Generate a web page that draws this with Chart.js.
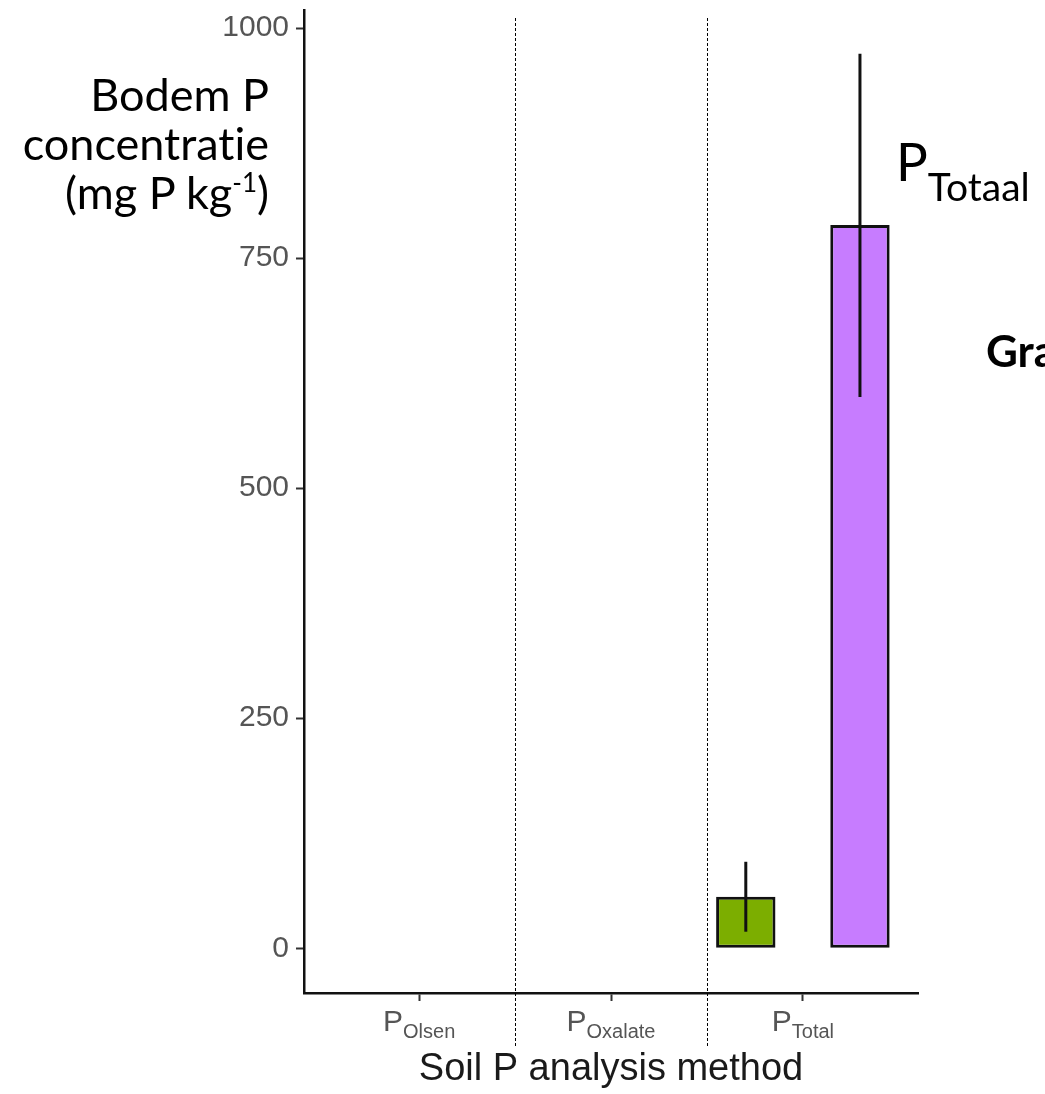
<!DOCTYPE html>
<html>
<head>
<meta charset="utf-8">
<script src="https://cdn.jsdelivr.net/npm/chart.js@4/dist/chart.umd.min.js"></script>
<style>
    html, body { margin: 0; padding: 0; background: #fff; overflow: hidden; }
    #wrap { position: relative; width: 1045px; height: 1094px; }
    #chart { position: absolute; left: 0; top: 0; }
    .note { position: absolute; font-family: Lato, 'Open Sans', sans-serif; color: #000; white-space: nowrap; font-variant-ligatures: none; }
    #ylabel { left: 0; top: 70px; width: 269px; text-align: right; font-size: 45px; line-height: 49px; }
    #ylabel sup { font-size: 26px; vertical-align: 17px; line-height: 0; }
    #ptotaal { left: 896px; top: 134px; font-size: 53px; line-height: 53px; }
    #ptotaal span { font-size: 39px; vertical-align: -20px; }
    #gra { left: 986px; top: 328px; font-size: 44px; line-height: 44px; font-weight: bold; }
</style>
</head>
<body>
<div id="wrap">
    <canvas id="chart" width="1045" height="1094"></canvas>
    <div class="note" id="ylabel">Bodem P<br>concentratie<br>(mg P kg<sup>-1</sup>)</div>
    <div class="note" id="ptotaal">P<span>Totaal</span></div>
    <div class="note" id="gra">Gra</div>
</div>
<script>
// Data
const categories = ['Olsen', 'Oxalate', 'Total'];
const greenValues = [null, null, 56];
const greenLow = [null, null, 18];
const greenHigh = [null, null, 94];
const purpleValues = [null, null, 786];
const purpleLow = [null, null, 599];
const purpleHigh = [null, null, 972];
const yTicks = [0, 250, 500, 750, 1000];

const errorBars = [
    { low: greenLow, high: greenHigh },
    { low: purpleLow, high: purpleHigh }
];

function toPoints(values) {
    return values.map((v, i) => ({ x: i + 1, y: v }));
}

// error bars, dashed separators and subscript tick labels
const extras = {
    id: 'extras',
    afterDatasetsDraw(chart) {
        const ctx = chart.ctx;
        const y = chart.scales.y;
        ctx.save();
        ctx.strokeStyle = '#111';
        ctx.lineWidth = 3;
        errorBars.forEach((err, d) => {
            const meta = chart.getDatasetMeta(d);
            meta.data.forEach((bar, i) => {
                if (err.low[i] == null) return;
                ctx.beginPath();
                ctx.moveTo(bar.x, y.getPixelForValue(err.low[i]));
                ctx.lineTo(bar.x, y.getPixelForValue(err.high[i]));
                ctx.stroke();
            });
        });
        ctx.restore();
    },
    afterDraw(chart) {
        const ctx = chart.ctx;
        const x = chart.scales.x;
        ctx.save();
        ctx.strokeStyle = '#000';
        ctx.lineWidth = 1;
        ctx.setLineDash([3, 2]);
        for (let i = 1; i < categories.length; i++) {
            const px = Math.round(x.getPixelForValue(i + 0.5)) + 0.5;
            ctx.beginPath();
            ctx.moveTo(px, 18);
            ctx.lineTo(px, 1046);
            ctx.stroke();
        }
        ctx.setLineDash([]);

        ctx.fillStyle = '#555';
        ctx.textBaseline = 'alphabetic';
        ctx.textAlign = 'left';
        const big = '30px "Liberation Sans", Arial, sans-serif';
        const small = '20px "Liberation Sans", Arial, sans-serif';
        categories.forEach((c, i) => {
            const cx = x.getPixelForValue(i + 1);
            ctx.font = big;
            const wp = ctx.measureText('P').width;
            ctx.font = small;
            const ws = ctx.measureText(c).width;
            const left = cx - (wp + ws) / 2;
            ctx.font = big;
            ctx.fillText('P', left, 1031);
            ctx.font = small;
            ctx.fillText(c, left + wp, 1038);
        });
        ctx.restore();
    }
};

document.addEventListener('DOMContentLoaded', function () {
    const ctx = document.getElementById('chart').getContext('2d');
    new Chart(ctx, {
        type: 'bar',
        data: {
            datasets: [{
                label: 'green',
                data: toPoints(greenValues),
                backgroundColor: '#7CAE00',
                borderColor: '#111',
                borderWidth: 3,
                borderSkipped: false
            }, {
                label: 'purple',
                data: toPoints(purpleValues),
                backgroundColor: '#C77CFF',
                borderColor: '#111',
                borderWidth: 3,
                borderSkipped: false
            }]
        },
        options: {
            responsive: false,
            animation: false,
            categoryPercentage: 1.19,
            barPercentage: 0.52,
            layout: { padding: { left: 0, top: 10, right: 127, bottom: 0 } },
            plugins: {
                legend: { display: false },
                tooltip: { enabled: false }
            },
            scales: {
                x: {
                    type: 'linear',
                    min: 0.4,
                    max: 3.6,
                    offset: false,
                    afterBuildTicks: s => { s.ticks = categories.map((c, i) => ({ value: i + 1 })); },
                    afterFit: s => { s.height = 101; s.paddingLeft = 0; s.paddingRight = 0; },
                    border: { color: '#111', width: 2.5 },
                    grid: { offset: false, drawOnChartArea: false, drawTicks: true, tickLength: 8, tickWidth: 2, tickColor: '#333' },
                    ticks: { display: false },
                    title: {
                        display: true,
                        text: 'Soil P analysis method',
                        color: '#1a1a1a',
                        font: { family: '"Liberation Sans", Arial, sans-serif', size: 38 },
                        padding: { top: 0, bottom: 2 }
                    }
                },
                y: {
                    min: -48.6,
                    max: 1019.6,
                    afterBuildTicks: s => { s.ticks = yTicks.map(v => ({ value: v })); },
                    afterFit: s => { s.width = 304; s.paddingTop = 0; s.paddingBottom = 0; },
                    border: { color: '#111', width: 2.5 },
                    grid: { drawOnChartArea: false, drawTicks: true, tickLength: 8, tickWidth: 2, tickColor: '#333' },
                    ticks: {
                        color: '#555',
                        padding: 7,
                        font: { family: '"Liberation Sans", Arial, sans-serif', size: 30 },
                        callback: v => String(v)
                    }
                }
            }
        },
        plugins: [extras]
    });
});
</script>
</body>
</html>
